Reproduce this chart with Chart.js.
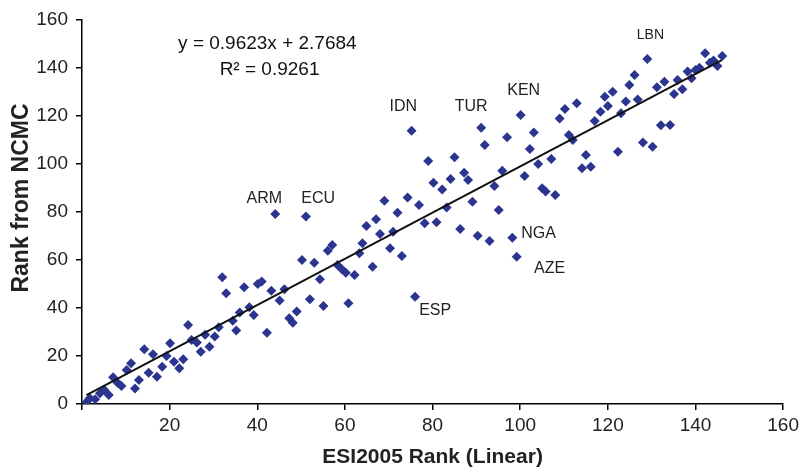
<!DOCTYPE html>
<html><head><meta charset="utf-8">
<script src="https://cdn.jsdelivr.net/npm/chart.js@4/dist/chart.umd.min.js"></script>
<style>html,body{margin:0;padding:0;background:#fff}#wrap{width:803px;height:472px;position:relative}</style>
</head><body><div id="wrap"><canvas id="c" width="803" height="472"></canvas></div>
<script>
// ESI2005 rank (x) and NCMC rank (y) per country
const esiRank = [1.1,1.8,3.0,4.1,5.1,6.1,7.1,8.1,9.0,10.2,
 11.2,12.1,13.0,14.2,15.2,16.2,17.1,18.3,19.3,20.1,
 21.0,22.2,23.1,24.2,25.0,26.2,27.1,28.1,29.1,30.3,
 31.2,32.0,32.9,34.4,35.2,36.0,37.0,38.2,39.2,40.1,
 41.0,42.2,43.2,44.1,45.1,46.2,47.3,48.1,49.0,50.2,
 51.1,52.0,53.0,54.3,55.1,56.1,57.1,58.3,59.3,60.2,
 60.8,62.2,63.3,64.0,64.9,66.3,67.1,68.0,69.0,70.3,
 71.0,72.0,73.0,74.3,75.2,76.0,76.9,78.2,79.0,80.2,
 80.9,82.2,83.2,84.1,85.0,86.3,87.2,88.1,89.1,90.3,
 91.1,91.9,93.0,94.1,95.1,95.9,97.0,98.2,99.2,100.1,
 101.0,102.2,103.1,104.1,105.0,105.8,107.1,108.0,109.0,110.2,
 111.1,112.0,112.9,114.1,115.0,116.1,117.0,118.3,119.3,120.0,
 121.1,122.3,123.0,124.1,124.9,126.1,126.8,128.0,129.0,130.2,
 131.2,132.1,132.9,134.2,135.1,135.9,137.0,138.2,139.1,140.0,
 140.9,142.2,143.3,144.1,145.0,146.1];
const ncmcRank = [1.0,2.4,2.0,4.5,5.8,3.75,11.1,8.9,7.5,14.2,
 17.0,6.5,10.0,22.8,13.0,20.7,11.4,15.5,20.0,25.3,
 17.6,14.9,18.6,32.9,26.7,25.6,21.8,28.9,23.9,28.1,
 32.0,52.8,46.1,34.7,30.6,38.1,48.6,40.3,37.1,50.0,
 51.0,29.7,47.2,79.2,43.1,47.8,35.7,33.9,38.5,60.0,
 78.1,43.6,58.9,52.0,40.8,63.9,66.3,57.9,56.1,54.7,
 42.0,53.7,62.8,67.0,74.2,57.2,77.0,70.8,84.7,64.9,
 71.8,79.7,61.7,86.0,113.9,44.7,82.9,75.3,101.3,92.2,
 75.7,89.4,81.9,93.75,102.8,72.9,96.4,93.3,84.3,70.1,
 115.1,107.9,67.9,90.8,80.8,97.2,111.1,69.3,61.4,120.4,
 95.0,106.3,113.1,100.0,89.9,88.5,102.1,87.1,119.0,122.9,
 112.1,110.0,125.3,98.2,103.8,98.9,117.9,121.8,128.0,124.2,
 130.1,105.1,121.1,126.0,132.9,137.1,126.9,109.0,143.75,107.2,
 132.0,116.1,134.3,116.3,129.2,135.0,131.1,138.5,135.7,139.2,
 140.1,146.1,142.2,143.1,140.8,145.0];
// Linear trendline endpoints (y = 0.9623x + 2.7684)
const trendX = [1, 146];
const trendY = [3.73, 143.26];
const xTicks = [0,20,40,60,80,100,120,140,160];
const yTicks = [0,20,40,60,80,100,120,140,160];
// Country annotations (placed in data units)
const labelNames = ['ARM','ECU','IDN','TUR','KEN','LBN','NGA','ESP','AZE'];
const labelX = [41.6,53.9,73.3,88.8,100.8,129.7,104.2,80.6,106.7];
const labelY = [85.4,85.4,123.75,123.75,130.4,153.75,70.8,38.75,56.25];
const eqLines = ['y = 0.9623x + 2.7684','R² = 0.9261'];
const eqX = [42.3, 42.8];
const eqY = [150, 139.2];
const yTitle = 'Rank from NCMC';

const NARROW = '"Liberation Sans Narrow", "Arial Narrow", "Liberation Sans", Arial, sans-serif';
const SANS = '"Liberation Sans", Arial, Helvetica, sans-serif';

const annot = {
  id: 'annot',
  afterDatasetsDraw(chart) {
    const ctx = chart.ctx, xs = chart.scales.x, ys = chart.scales.y;
    ctx.save();
    ctx.fillStyle = '#222';
    ctx.textAlign = 'center';
    ctx.textBaseline = 'middle';
    labelNames.forEach((t, i) => {
      ctx.font = (t === 'LBN' ? '14px ' : '16px ') + SANS;
      ctx.fillText(t, xs.getPixelForValue(labelX[i]), ys.getPixelForValue(labelY[i]));
    });
    ctx.fillStyle = '#111';
    ctx.font = '19px ' + NARROW;
    eqLines.forEach((t, i) => {
      ctx.fillText(t, xs.getPixelForValue(eqX[i]), ys.getPixelForValue(eqY[i]));
    });
    // y axis title
    ctx.translate(22, 198);
    ctx.rotate(-Math.PI / 2);
    ctx.fillStyle = '#222';
    ctx.font = 'bold 23px ' + SANS;
    ctx.fillText(yTitle, 0, 0);
    ctx.restore();
  }
};

new Chart(document.getElementById('c'), {
  type: 'scatter',
  data: {
    datasets: [
      {
        label: 'Countries',
        data: esiRank.map((x, i) => ({x, y: ncmcRank[i]})),
        pointStyle: 'rectRot',
        pointRadius: 5,
        pointBackgroundColor: '#2B3590',
        pointBorderColor: '#2B3590',
        pointBorderWidth: 0,
        order: 2
      },
      {
        label: 'Linear',
        type: 'line',
        data: trendX.map((x, i) => ({x, y: trendY[i]})),
        borderColor: '#111',
        borderWidth: 2,
        pointRadius: 0,
        fill: false,
        order: 1
      }
    ]
  },
  options: {
    responsive: false,
    animation: false,
    devicePixelRatio: 1,
    layout: { padding: { top: 20, right: 18, left: 0, bottom: 0 } },
    plugins: { legend: { display: false }, tooltip: { enabled: false } },
    scales: {
      x: {
        type: 'linear', min: 0, max: 160,
        afterBuildTicks(s) { s.ticks = xTicks.map(v => ({value: v})); },
        afterFit(s) { s.height = 68; },
        ticks: {
          color: '#222', padding: 4,
          font: { family: NARROW, size: 19 },
          callback: v => v === 0 ? '' : String(v)
        },
        grid: { display: true, drawOnChartArea: false, drawTicks: true, tickLength: 6, color: '#000', lineWidth: 1.5 },
        border: { display: true, color: '#000', width: 1.5 },
        title: { display: true, text: 'ESI2005 Rank (Linear)', color: '#222',
          font: { family: SANS, size: 21, weight: 'bold', lineHeight: 1.2 }, padding: { top: 0, bottom: 2 } }
      },
      y: {
        type: 'linear', min: 0, max: 160,
        afterBuildTicks(s) { s.ticks = yTicks.map(v => ({value: v})); },
        afterFit(s) { s.width = 82; },
        ticks: {
          color: '#222', padding: 8,
          font: { family: NARROW, size: 19 }
        },
        grid: { display: true, drawOnChartArea: false, drawTicks: true, tickLength: 6, color: '#000', lineWidth: 1.5 },
        border: { display: true, color: '#000', width: 1.5 },
        title: { display: false }
      }
    }
  },
  plugins: [annot]
});
</script>
</body></html>
